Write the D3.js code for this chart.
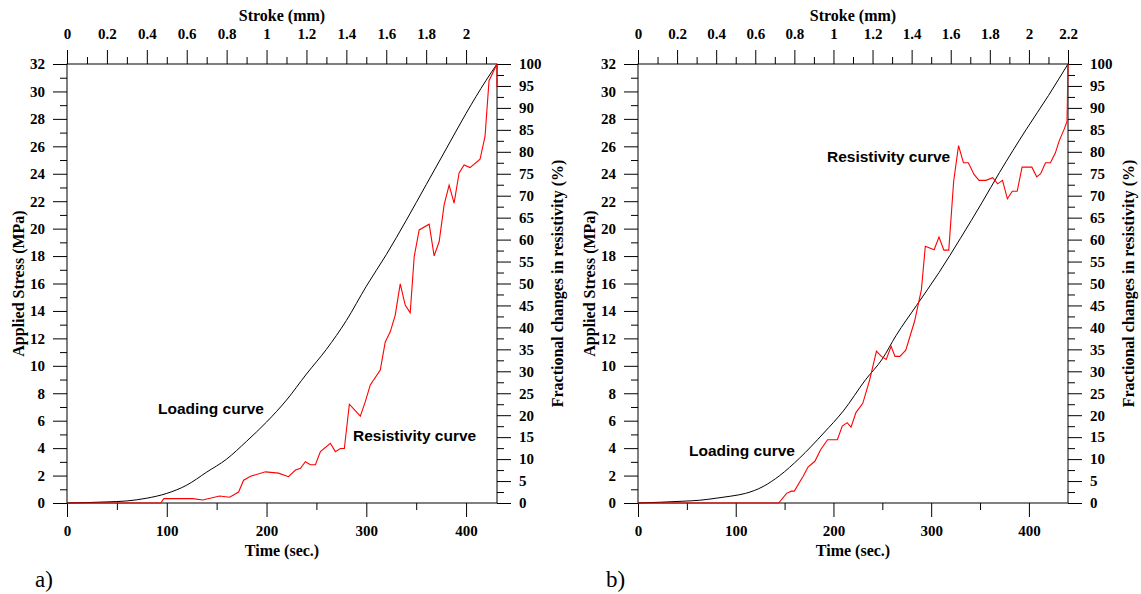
<!DOCTYPE html>
<html>
<head>
<meta charset="utf-8">
<script src="https://cdn.jsdelivr.net/npm/d3@7"></script>
<style>
  body { margin: 0; background: #fff; }
  text { font-family: "Liberation Serif", "Times New Roman", serif; font-weight: bold; fill: #000; }
  .curveLabel { font-family: "Liberation Sans", Arial, sans-serif; font-weight: bold; }
  .panelLabel { font-weight: normal; }
</style>
</head>
<body>
<svg id="chart" width="1141" height="594"></svg>
<script>
// tick values
var timeTicks = [0, 100, 200, 300, 400];
var timeMinor = [50, 150, 250, 350];
var stressTicks = [0, 2, 4, 6, 8, 10, 12, 14, 16, 18, 20, 22, 24, 26, 28, 30, 32];
var stressMinor = [1, 3, 5, 7, 9, 11, 13, 15, 17, 19, 21, 23, 25, 27, 29, 31];
var resTicks = [0, 5, 10, 15, 20, 25, 30, 35, 40, 45, 50, 55, 60, 65, 70, 75, 80, 85, 90, 95, 100];
var resMinor = [2.5, 7.5, 12.5, 17.5, 22.5, 27.5, 32.5, 37.5, 42.5, 47.5, 52.5, 57.5, 62.5, 67.5, 72.5, 77.5, 82.5, 87.5, 92.5, 97.5];
var strokeTicksA = [0, 0.2, 0.4, 0.6, 0.8, 1, 1.2, 1.4, 1.6, 1.8, 2];
var strokeTicksB = [0, 0.2, 0.4, 0.6, 0.8, 1, 1.2, 1.4, 1.6, 1.8, 2, 2.2];
var strokeMinor = [0.1, 0.3, 0.5, 0.7, 0.9, 1.1, 1.3, 1.5, 1.7, 1.9, 2.1];

// panel a) loading curve (time s, stress MPa)
var loadTimeA = [0, 20, 40, 60, 80, 100, 120, 140, 160, 180, 200, 220, 240, 260, 280, 300, 320, 340, 360, 380, 400, 420, 431];
var loadStressA = [0, 0.03, 0.08, 0.15, 0.35, 0.7, 1.3, 2.25, 3.2, 4.5, 5.9, 7.5, 9.4, 11.2, 13.3, 15.8, 18.1, 20.6, 23.2, 25.8, 28.4, 30.8, 32];

// panel a) resistivity curve (time s, %)
var resTimeA = [0, 94, 97, 126, 136, 153, 163, 172, 177, 184, 199, 212, 222, 229, 234, 239, 244, 249, 254, 264, 269, 274, 278, 283, 294, 299, 304, 314, 319, 324, 329, 334, 339, 344, 348, 353, 363, 368, 373, 378, 383, 388, 393, 398, 404, 414, 419, 423, 431, 431];
var resValA = [0, 0, 1, 1, 0.7, 1.6, 1.3, 2.5, 5.2, 6.1, 7.1, 6.8, 6.0, 7.5, 7.9, 9.4, 8.7, 8.7, 11.7, 13.6, 11.7, 12.4, 12.4, 22.5, 19.8, 23.1, 26.9, 30.3, 36.7, 39.0, 42.8, 49.9, 45.1, 43.3, 56.1, 62.2, 63.5, 56.3, 59.5, 67.9, 72.4, 68.3, 75.2, 77, 76.4, 78.3, 83.5, 96.2, 100, 94.7];

// panel b) loading curve
var loadTimeB = [0, 46, 63, 80, 95, 110, 128, 145, 165, 190, 210, 233, 250, 264, 285, 308, 330, 352, 370, 397, 420, 440];
var loadStressB = [0, 0.13, 0.2, 0.35, 0.5, 0.7, 1.2, 2.0, 3.25, 5.1, 6.7, 9.0, 10.5, 12.2, 14.4, 16.8, 19.3, 21.9, 24.1, 27.2, 29.7, 32];

// panel b) resistivity curve
var resTimeB = [0, 144, 152, 157, 160, 165, 169, 174, 181, 187, 194, 204, 209, 214, 218, 223, 230, 237, 244, 249, 254, 259, 263, 268, 274, 283, 290, 294, 303, 308, 313, 318, 323, 328, 333, 338, 344, 349, 356, 363, 368, 373, 378, 383, 388, 393, 403, 408, 412, 417, 422, 427, 431, 436, 439, 440];
var resValB = [0, 0, 2.2, 2.7, 2.7, 4.6, 6.1, 8.2, 9.5, 12.2, 14.4, 14.4, 17.5, 18.3, 17.3, 20.6, 22.7, 28.0, 34.6, 33.4, 32.7, 35.7, 33.4, 33.4, 34.8, 41.4, 48.6, 58.5, 57.7, 60.6, 57.6, 57.6, 73.3, 81.4, 77.5, 77.5, 74.8, 73.5, 73.5, 74.1, 72.7, 73.5, 69.3, 71.0, 71.0, 76.5, 76.5, 74.3, 75.0, 77.5, 77.5, 79.7, 82.5, 85.1, 86.9, 100];

var svg = d3.select("#chart");
var fmt = function (d) { return String(+d.toFixed(1)); };

function drawPanel(p)
{
  var top = 64, bottom = 503;
  var x = d3.scaleLinear().domain([0, p.timeMax]).range([p.left, p.right]);
  var xs = d3.scaleLinear().domain([0, p.strokeMax]).range([p.left, p.right]);
  var y = d3.scaleLinear().domain([0, 32]).range([bottom, top]);
  var yr = d3.scaleLinear().domain([0, 100]).range([bottom, top]);

  var g = svg.append("g");

  function addAxis(axis, tr)
  {
    var a = g.append("g")
        .attr("transform", tr)
        .style("font-size", "15px")
        .call(axis);
    a.select(".domain").remove();
    a.selectAll("text").attr("font-family", null).attr("font-size", null);
    return a;
  }

  // minor ticks
  addAxis(d3.axisBottom(x).tickValues(timeMinor).tickSize(7).tickFormat(""), "translate(0," + bottom + ")");
  addAxis(d3.axisTop(xs).tickValues(strokeMinor.filter(function (d) { return d <= p.strokeMax; })).tickSize(7).tickFormat(""), "translate(0," + top + ")");
  addAxis(d3.axisLeft(y).tickValues(stressMinor).tickSize(7).tickFormat(""), "translate(" + p.left + ",0)");
  addAxis(d3.axisRight(yr).tickValues(resMinor).tickSize(7).tickFormat(""), "translate(" + p.right + ",0)");

  // major ticks
  addAxis(d3.axisBottom(x).tickValues(timeTicks).tickSize(14).tickPadding(8), "translate(0," + bottom + ")");
  addAxis(d3.axisTop(xs).tickValues(p.strokeTicks).tickSize(14).tickPadding(11).tickFormat(fmt), "translate(0," + top + ")");
  addAxis(d3.axisLeft(y).tickValues(stressTicks).tickSize(14).tickPadding(8), "translate(" + p.left + ",0)");
  addAxis(d3.axisRight(yr).tickValues(resTicks).tickSize(14).tickPadding(8), "translate(" + p.right + ",0)");

  // frame
  g.append("rect")
      .attr("x", p.left)
      .attr("y", top)
      .attr("width", p.right - p.left)
      .attr("height", bottom - top)
      .attr("fill", "none")
      .attr("stroke", "#000")
      .attr("stroke-width", 1);

  // curves
  var loadLine = d3.line()
      .curve(d3.curveMonotoneX)
      .x(function (d) { return x(d[0]); })
      .y(function (d) { return y(d[1]); });
  var resLine = d3.line()
      .x(function (d) { return x(d[0]); })
      .y(function (d) { return yr(d[1]); });

  g.append("path")
      .attr("d", loadLine(d3.zip(p.loadT, p.loadS)))
      .attr("fill", "none")
      .attr("stroke", "#000")
      .attr("stroke-width", 1);

  g.append("path")
      .attr("d", resLine(d3.zip(p.resT, p.resV)))
      .attr("fill", "none")
      .attr("stroke", "#ff0000")
      .attr("stroke-width", 1.1);

  // axis titles
  g.append("text")
      .attr("x", (p.left + p.right) / 2)
      .attr("y", 21)
      .attr("text-anchor", "middle")
      .style("font-size", "16px")
      .text("Stroke (mm)");
  g.append("text")
      .attr("x", (p.left + p.right) / 2)
      .attr("y", 556)
      .attr("text-anchor", "middle")
      .style("font-size", "16px")
      .text("Time (sec.)");
  g.append("text")
      .attr("transform", "translate(" + (p.left - 49) + "," + ((top + bottom) / 2) + ") rotate(-90)")
      .attr("text-anchor", "middle")
      .attr("dy", "0.35em")
      .style("font-size", "16px")
      .text("Applied Stress (MPa)");
  g.append("text")
      .attr("transform", "translate(" + (p.right + 60) + "," + ((top + bottom) / 2) + ") rotate(-90)")
      .attr("text-anchor", "middle")
      .attr("dy", "0.35em")
      .style("font-size", "16px")
      .text("Fractional changes in resistivity (%)");

  // curve labels
  g.append("text")
      .attr("class", "curveLabel")
      .attr("x", p.loadLabel[0])
      .attr("y", p.loadLabel[1])
      .style("font-size", "15.5px")
      .text("Loading curve");
  g.append("text")
      .attr("class", "curveLabel")
      .attr("x", p.resLabel[0])
      .attr("y", p.resLabel[1])
      .style("font-size", "15.5px")
      .text("Resistivity curve");

  g.append("text")
      .attr("class", "panelLabel")
      .attr("x", p.left - 32)
      .attr("y", 587)
      .style("font-size", "23px")
      .text(p.name);
}

drawPanel({
  name: "a)", left: 67, right: 497, timeMax: 431, strokeMax: 2.155, strokeTicks: strokeTicksA,
  loadT: loadTimeA, loadS: loadStressA, resT: resTimeA, resV: resValA,
  loadLabel: [158, 414], resLabel: [353, 441]
});
drawPanel({
  name: "b)", left: 638, right: 1068, timeMax: 440, strokeMax: 2.2, strokeTicks: strokeTicksB,
  loadT: loadTimeB, loadS: loadStressB, resT: resTimeB, resV: resValB,
  loadLabel: [689, 456], resLabel: [827, 162]
});
</script>
</body>
</html>
